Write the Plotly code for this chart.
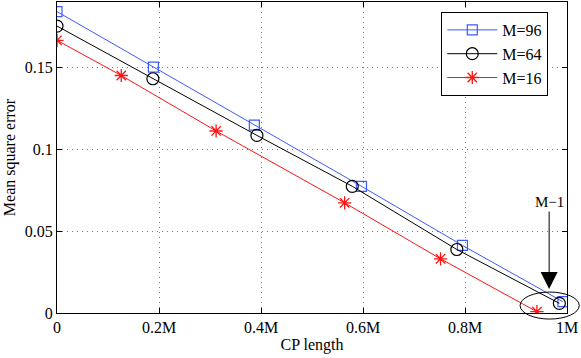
import plotly.graph_objects as go

# Data (x in units of M, y = mean square error)
x_m96 = [0.0, 0.189, 0.387, 0.597, 0.795, 0.992]
y_m96 = [0.1841, 0.1502, 0.1148, 0.0774, 0.0413, 0.0069]

x_m64 = [0.0, 0.188, 0.392, 0.579, 0.784, 0.985]
y_m64 = [0.1753, 0.1431, 0.1085, 0.0774, 0.0388, 0.0059]

x_m16 = [0.0, 0.126, 0.312, 0.564, 0.752, 0.941]
y_m16 = [0.1666, 0.1451, 0.1112, 0.0673, 0.0331, 0.0008]

x_tickvals = [0, 0.2, 0.4, 0.6, 0.8, 1.0]
x_ticktext = ["0", "0.2M", "0.4M", "0.6M", "0.8M", "1M"]
y_tickvals = [0, 0.05, 0.1, 0.15]
y_ticktext = ["0", "0.05", "0.1", "0.15"]

x_range = [0, 1.0]
y_range = [0, 0.19]

# ellipse / arrow annotation (data units)
ell_x = [0.908, 1.024]
ell_y = [-0.0037, 0.0128]
arrow_x = 0.965
arrow_y = 0.0146

FONT = "Liberation Serif"
BLUE = "rgb(60,90,250)"
RED = "rgb(255,20,20)"

fig = go.Figure()
fig.add_trace(go.Scatter(x=x_m96, y=y_m96, mode="lines+markers", name="M=96",
                         line=dict(color=BLUE, width=1),
                         marker=dict(symbol="square-open", size=10, color=BLUE, line=dict(width=1.2))))
fig.add_trace(go.Scatter(x=x_m64, y=y_m64, mode="lines+markers", name="M=64",
                         line=dict(color="black", width=1),
                         marker=dict(symbol="circle-open", size=12, color="black", line=dict(width=1.2))))
fig.add_trace(go.Scatter(x=x_m16, y=y_m16, mode="lines+markers", name="M=16",
                         line=dict(color=RED, width=1),
                         marker=dict(symbol="asterisk-open", size=11, color=RED, line=dict(width=1.3))))

def px(v):
    return (v - x_range[0]) / (x_range[1] - x_range[0])

def py(v):
    return (v - y_range[0]) / (y_range[1] - y_range[0])

fig.add_shape(type="circle", xref="paper", yref="paper",
              x0=px(ell_x[0]), x1=px(ell_x[1]), y0=py(ell_y[0]), y1=py(ell_y[1]),
              line=dict(color="black", width=1))

fig.add_annotation(x=arrow_x, y=arrow_y, xref="x", yref="y", text="M\u22121",
                   showarrow=True, ax=0, ay=-87, arrowhead=2, arrowsize=3.4,
                   arrowwidth=1, arrowcolor="black", standoff=0,
                   font=dict(family=FONT, size=15, color="black"))

axis_common = dict(showline=True, linecolor="black", linewidth=1, mirror="ticks",
                   ticks="inside", ticklen=5, tickcolor="black",
                   showgrid=True, gridcolor="rgb(120,120,120)", griddash="1px,4px", gridwidth=1,
                   zeroline=False, tickfont=dict(family=FONT, size=16, color="black"))

fig.update_xaxes(range=x_range, tickvals=x_tickvals, ticktext=x_ticktext,
                 title=dict(text="CP length", font=dict(family=FONT, size=16, color="black"), standoff=3),
                 **axis_common)
fig.update_yaxes(range=y_range, tickvals=y_tickvals, ticktext=y_ticktext,
                 title=dict(text="Mean square error", font=dict(family=FONT, size=16, color="black"), standoff=5),
                 **axis_common)

fig.update_layout(
    width=581, height=358,
    margin=dict(l=57, r=14, t=2, b=45, autoexpand=False),
    paper_bgcolor="white", plot_bgcolor="white",
    font=dict(family=FONT, size=16, color="black"),
    legend=dict(x=(548 - 57) / 509.7, y=(313 - 12) / 311, xanchor="right", yanchor="top",
                bgcolor="white", bordercolor="black", borderwidth=1,
                font=dict(family=FONT, size=16), itemwidth=50,
                tracegroupgap=0),
)

fig.write_html("out.html", config={"displayModeBar": False},
               post_script="document.body.style.margin='0';document.body.style.padding='0';")
